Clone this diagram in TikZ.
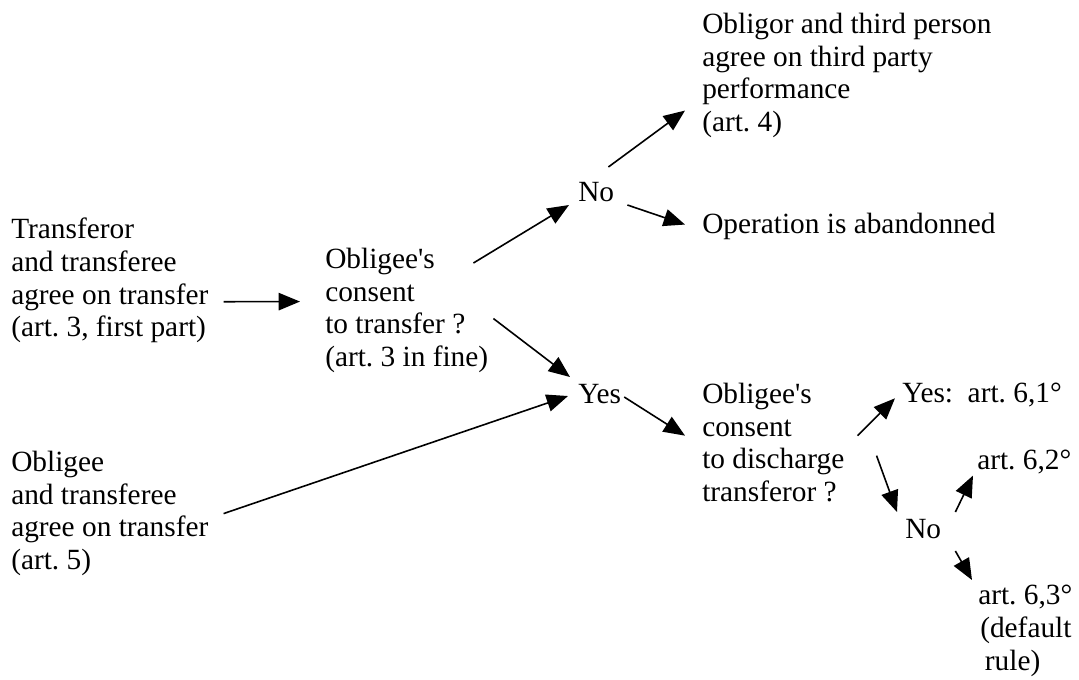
\documentclass[tikz,border=0pt]{standalone}
\usepackage{fontspec}
\setmainfont{Liberation Serif}
\usetikzlibrary{arrows.meta}
\frenchspacing

\begin{document}
\begin{tikzpicture}[x=0.75pt, y=-0.75pt,
  every node/.style = {align=left, anchor=north west, inner sep=0pt,
    font=\fontsize{22pt}{24.5pt}\selectfont},
  link/.style={draw, line width=1.2pt, -{Triangle[length=16pt, width=13pt]}}]
  \useasboundingbox (0,0) rectangle (1079,679);
  % left column
  \node (tr) at (11,218) {Transferor\\and transferee\\agree on transfer\\(art. 3, first part)};
  \node (ob) at (11,451) {Obligee\\and transferee\\agree on transfer\\(art. 5)};
  \node (cons) at (325,248) {Obligee\textquotesingle s\\consent\\to transfer ?\\(art. 3 in fine)};
  % first answer
  \node (no1) at (578,182) {No};
  \node (yes1) at (578,384) {Yes};
  \node (perf) at (702,13) {Obligor and third person\\agree on third party\\performance\\(art. 4)};
  \node (aband) at (702,213) {Operation is abandonned};
  % discharge of the transferor
  \node (disch) at (702,383) {Obligee\textquotesingle s\\consent\\to discharge\\transferor ?};
  \node (yes2) at (902,383) {Yes:\ \ art. 6,1°};
  \node (no2) at (905,519) {No};
  \node (a62) at (977,450) {art. 6,2°};
  \node (a63) at (978,585) {art. 6,3°\\\hspace*{1.5pt}(default\\\hspace*{5pt}rule)};
  \path [link] ([shift={(15,21)}]tr.east) -- ([shift={(-25,-9)}]cons.west);
  \path [link] ([shift={(-15,15)}]cons.north east) -- ([shift={(-9,13)}]no1.west);
  \path [link] ([shift={(5,8)}]cons.east) -- ([shift={(-8,-7)}]yes1.north west);
  \path [link] ([shift={(15,0)}]ob.east) -- ([shift={(-10,2)}]yes1.west);
  \path [link] ([shift={(-6,-15)}]no1.north east) -- ([shift={(-17,35)}]perf.west);
  \path [link] ([shift={(13,13)}]no1.east) -- ([shift={(-17,-2)}]aband.west);
  \path [link] ([shift={(3,3)}]yes1.east) -- ([shift={(-17,-7)}]disch.west);
  \path [link] ([shift={(13,-7)}]disch.east) -- ([shift={(-7,3)}]yes2.west);
  \path [link] ([shift={(32,13)}]disch.east) -- ([shift={(-8,-7)}]no2.north west);
  \path [link] ([shift={(14,-7)}]no2.north east) -- ([shift={(-4,1)}]a62.south west);
  \path [link] ([shift={(14,12)}]no2.south east) -- ([shift={(-6,-5)}]a63.north west);
\end{tikzpicture}
\end{document}
